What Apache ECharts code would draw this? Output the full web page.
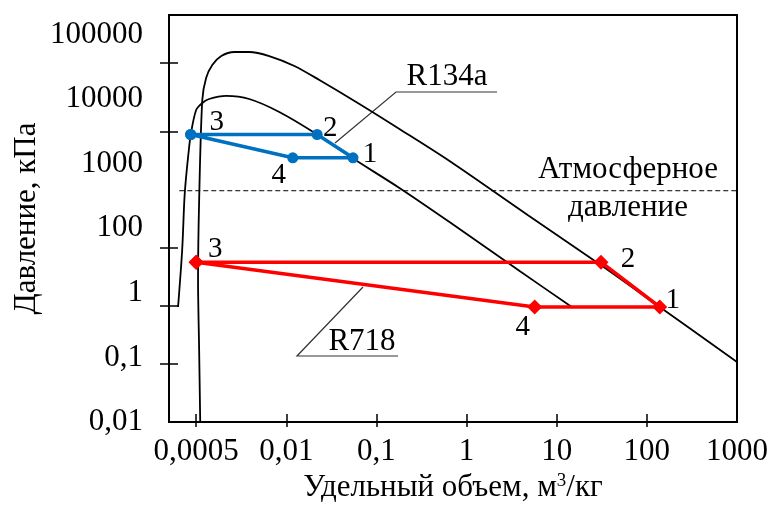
<!DOCTYPE html>
<html>
<head>
<meta charset="utf-8">
<script src="https://cdn.jsdelivr.net/npm/echarts@6/dist/echarts.min.js"></script>
<style>
html,body{margin:0;padding:0;background:#fff;}
#c{width:779px;height:516px;}
</style>
</head>
<body>
<div id="c"></div>
<script>
// ---- data ----
const xTickValues = [0.001, 0.01, 0.1, 1, 10, 100, 1000];
const xTickLabels = ['0,0005', '0,01', '0,1', '1', '10', '100', '1000'];
const yTickMarks = [0.1, 1, 10, 1000, 15000];
const yTickLabels = ['0,01', '0,1', '1', '100', '1000', '10000', '100000'];

// water (R718) saturation dome
const waterV = [0.00111, 0.00108, 0.00105, 0.00108, 0.00117, 0.00129, 0.00151, 0.0019, 0.00265, 0.00388, 0.00647, 0.0123, 0.0233, 0.0648, 0.18, 0.647, 4.76, 30.8, 139, 1000];
const waterP = [0.01, 0.17, 2.77, 65.8, 3455, 8260, 13800, 19700, 23100, 23100, 19700, 13300, 7620, 2950, 1096, 308, 36.3, 5.0, 0.95, 0.108];

// R134a saturation dome
const r134V = [0.00063, 0.0007, 0.00074, 0.00077, 0.00082, 0.00087, 0.001, 0.00117, 0.00139, 0.00215, 0.00388, 0.00836, 0.0216, 0.054, 0.18, 0.647, 3.88, 14.7];
const r134P = [0.95, 9.1, 65.8, 150, 400, 863, 2320, 3070, 3590, 4050, 3590, 2150, 900, 347, 106, 27.5, 3.95, 0.95];

// cycles (points 3, 2, 1, 4)
const cycleNames = ['3', '2', '1', '4'];
const r134CycleV = [0.00087, 0.022, 0.055, 0.0118];
const r134CycleP = [880, 880, 350, 350];
const r718CycleV = [0.001, 31, 139, 5.7];
const r718CycleP = [5.6, 5.6, 0.95, 0.95];

// atmospheric pressure line
const atmP = 95;
const atmV = [0.00065, 1000];

// ---- styles ----
const FONT = "'Liberation Serif', 'Times New Roman', serif";
const blueOffsets = [[26, -12], [13, -6], [17, -3], [-14, 18]];
const redOffsets = [[19, -13], [27, -3], [13, -7], [-12, 20]];

function cycleData(vs, ps, offsets) {
  const d = cycleNames.map((n, i) => ({
    value: [vs[i], ps[i]], name: n,
    label: { show: true, offset: offsets[i] }
  }));
  d.push({ value: [vs[0], ps[0]], name: '', label: { show: false } });
  return d;
}

const chart = echarts.init(document.getElementById('c'), null, { renderer: 'canvas' });

const baseX = { type: 'log', logBase: 10, min: 0.0005, max: 1000, gridIndex: 0 };
const baseY = { type: 'log', logBase: 10, min: 0.01, max: 100000, gridIndex: 0 };

const option = {
  animation: false,
  backgroundColor: '#fff',
  grid: { left: 169, right: 42, top: 15, bottom: 94, show: true, borderColor: '#000', borderWidth: 2, backgroundColor: 'transparent' },
  xAxis: [
    Object.assign({}, baseX, {
      position: 'bottom',
      axisLine: { show: true, lineStyle: { color: '#000', width: 2 } },
      axisTick: { show: true, inside: false, length: 5, customValues: xTickValues.slice(0, 6), lineStyle: { color: '#000', width: 1.5 } },
      axisLabel: {
        customValues: xTickValues, color: '#000', fontFamily: FONT, fontSize: 31, margin: 14,
        formatter: function (v) { const i = xTickValues.findIndex(t => Math.abs(Math.log10(t) - Math.log10(v)) < 1e-6); return i >= 0 ? xTickLabels[i] : ''; }
      },
      splitLine: { show: false },
      name: '{a|Удельный объем, м}{s|3}{a|/кг}',
      nameLocation: 'middle', nameGap: 50,
      nameTextStyle: {
        color: '#000', fontFamily: FONT, fontSize: 31,
        rich: {
          a: { fontFamily: FONT, fontSize: 31, color: '#000', verticalAlign: 'bottom' },
          s: { fontFamily: FONT, fontSize: 19, color: '#000', verticalAlign: 'top', padding: [0, 0, 12, 0] }
        }
      }
    }),
    Object.assign({}, baseX, {
      position: 'bottom',
      axisLine: { show: false },
      axisTick: { show: true, inside: true, length: 8, customValues: xTickValues.slice(0, 6), lineStyle: { color: '#000', width: 1.5 } },
      axisLabel: { show: false },
      splitLine: { show: false }
    })
  ],
  yAxis: [
    Object.assign({}, baseY, {
      position: 'left',
      axisLine: { show: true, lineStyle: { color: '#000', width: 2 } },
      axisTick: { show: true, inside: false, length: 9, customValues: yTickMarks, lineStyle: { color: '#000', width: 1.5 } },
      axisLabel: { show: false },
      splitLine: { show: false },
      name: 'Давление, кПа', nameLocation: 'middle', nameGap: 127, nameRotate: 90,
      nameTextStyle: { color: '#000', fontFamily: FONT, fontSize: 31 }
    }),
    Object.assign({}, baseY, {
      position: 'left',
      axisLine: { show: false },
      axisTick: { show: true, inside: true, length: 9, customValues: yTickMarks, lineStyle: { color: '#000', width: 1.5 } },
      axisLabel: { show: false },
      splitLine: { show: false }
    }),
    {
      type: 'value', gridIndex: 0, position: 'left', min: 0, max: 6.3,
      axisLine: { show: false }, axisTick: { show: false }, splitLine: { show: false },
      axisLabel: {
        customValues: [0, 1, 2, 3, 4, 5, 6], color: '#000', fontFamily: FONT, fontSize: 31, margin: 26,
        formatter: function (v) { const i = Math.round(v); return Math.abs(v - i) < 1e-6 ? (yTickLabels[i] || '') : ''; }
      }
    }
  ],
  series: [
    {
      type: 'line', name: 'R718 dome', xAxisIndex: 0, yAxisIndex: 0,
      data: waterV.map((v, i) => [v, waterP[i]]),
      showSymbol: false, symbol: 'none', smooth: 0.3,
      lineStyle: { color: '#000', width: 1.8 }, z: 2
    },
    {
      type: 'line', name: 'R134a dome', xAxisIndex: 0, yAxisIndex: 0,
      data: r134V.map((v, i) => [v, r134P[i]]),
      showSymbol: false, symbol: 'none', smooth: 0.3,
      lineStyle: { color: '#000', width: 1.8 }, z: 2
    },
    {
      type: 'line', name: 'atm', xAxisIndex: 0, yAxisIndex: 0,
      data: atmV.map(v => [v, atmP]),
      symbol: 'none', lineStyle: { color: '#000', width: 1, type: [5, 3] }, z: 1
    },
    {
      type: 'line', name: 'R134a cycle', xAxisIndex: 0, yAxisIndex: 0,
      data: cycleData(r134CycleV, r134CycleP, blueOffsets),
      symbol: 'circle', symbolSize: 11, showAllSymbol: true,
      itemStyle: { color: '#0070C0' },
      lineStyle: { color: '#0070C0', width: 3.5 },
      label: { show: true, position: 'inside', formatter: '{b}', color: '#000', fontFamily: FONT, fontSize: 29 },
      z: 5
    },
    {
      type: 'line', name: 'R718 cycle', xAxisIndex: 0, yAxisIndex: 0,
      data: cycleData(r718CycleV, r718CycleP, redOffsets),
      symbol: 'diamond', symbolSize: 15, showAllSymbol: true,
      itemStyle: { color: '#FF0000' },
      lineStyle: { color: '#FF0000', width: 3.5 },
      label: { show: true, position: 'inside', formatter: '{b}', color: '#000', fontFamily: FONT, fontSize: 29 },
      z: 5
    }
  ],
  graphic: [
    { type: 'text', x: 628, y: 170, style: { text: 'Атмосферное', font: '31px ' + FONT, fill: '#000', textAlign: 'center', textVerticalAlign: 'middle' } },
    { type: 'text', x: 628, y: 208, style: { text: 'давление', font: '31px ' + FONT, fill: '#000', textAlign: 'center', textVerticalAlign: 'middle' } },
    { type: 'text', x: 447, y: 77, style: { text: 'R134a', font: '31px ' + FONT, fill: '#000', textAlign: 'center', textVerticalAlign: 'middle' } },
    { type: 'text', x: 362, y: 342, style: { text: 'R718', font: '31px ' + FONT, fill: '#000', textAlign: 'center', textVerticalAlign: 'middle' } },
    { type: 'polyline', shape: { points: [[335, 143], [396, 92], [497, 92]] }, style: { stroke: '#333', lineWidth: 1.2, fill: null } },
    { type: 'polyline', shape: { points: [[363, 287], [297, 356], [398, 356]] }, style: { stroke: '#333', lineWidth: 1.2, fill: null } }
  ]
};
chart.setOption(option);
</script>
</body>
</html>
